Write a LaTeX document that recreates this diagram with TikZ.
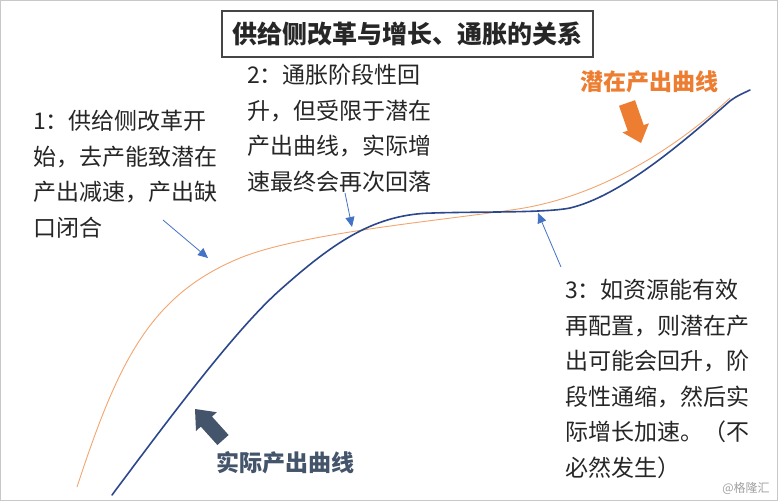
\documentclass[tikz,border=0pt]{standalone}
\usepackage{fontspec}
\setmainfont{Noto Sans CJK SC}
\usetikzlibrary{arrows.meta}
\definecolor{potline}{RGB}{243,165,110}
\definecolor{actline}{RGB}{44,72,140}
\definecolor{potlabel}{RGB}{237,125,49}
\definecolor{actlabel}{RGB}{68,84,106}
\definecolor{pointer}{RGB}{68,114,196}
\definecolor{txt}{RGB}{38,38,38}
\tikzset{
  note/.style={anchor=north west, inner sep=0pt, align=left, text=txt,
    font=\fontsize{23}{35.5}\selectfont},
  curvelabel/.style={inner sep=0pt, font=\fontsize{23}{28}\selectfont\bfseries},
  pointerline/.style={draw=pointer, line width=0.8pt, -{Triangle[length=10pt,width=9pt]}},
}
\begin{document}
\begin{tikzpicture}[x=1pt,y=-1pt]
\useasboundingbox (0,0) rectangle (778,501);
\fill[white] (0,0) rectangle (778,501);
\draw[draw={rgb,255:red,200;green,200;blue,200}, line width=1.2pt] (0.8,0.8) rectangle (777.2,500.2);

% title
\node[draw={rgb,255:red,70;green,70;blue,70}, line width=1.2pt, minimum width=371pt, minimum height=46pt,
  inner sep=0pt, font=\fontsize{25}{30}\selectfont\bfseries, text=txt] (title) at (407.5,34) {供给侧改革与增长、通胀的关系};

% potential output curve
\draw[potline, line width=0.9pt] (77,487)
  .. controls (118,362) and (150,295) .. (240,258)
  .. controls (300,233.3) and (440,220.6) .. (511,210)
  .. controls (610,197) and (690,135) .. (730,98);
% actual output curve
\draw[actline, line width=1.6pt, line cap=round] (112,495)
  .. controls (168,420) and (235,330) .. (280,290)
  .. controls (335,241) and (375,214) .. (433,213)
  .. controls (480,211.5) and (545,213) .. (570,208)
  .. controls (620,196) and (680,145) .. (730,101)
  .. controls (738,95) and (744,93) .. (750,90);

% notes
\node[note] (n1) at (33,110) {1：供给侧改革开\\始，去产能致潜在\\产出减速，产出缺\\口闭合};
\node[note] (n2) at (247,64) {2：通胀阶段性回\\升，但受限于潜在\\产出曲线，实际增\\速最终会再次回落};
\node[note] (n3) at (565,279) {3：如资源能有效\\再配置，则潜在产\\出可能会回升，阶\\段性通缩，然后实\\际增长加速。（不\\必然发生）};

% pointers
\coordinate (p1s) at (163,220); \coordinate (p1e) at (208,258);
\coordinate (p2s) at (345,193); \coordinate (p2e) at (352,227);
\coordinate (p3s) at (561,267); \coordinate (p3e) at (538,213);
\draw[pointerline] (p1s) -- (p1e);
\draw[pointerline] (p2s) -- (p2e);
\draw[pointerline] (p3s) -- (p3e);

% curve labels
\node[curvelabel, text=potlabel] (potl) at (649,82) {潜在产出曲线};
\node[curvelabel, text=actlabel] (actl) at (285,463) {实际产出曲线};

% block arrows
\fill[potlabel] (619.0,105.8) -- (627.7,130.7) -- (622.5,132.5) -- (641,143)
  -- (648.9,123.3) -- (643.7,125.1) -- (635.0,100.2) -- cycle;
\fill[actlabel] (228.6,435.0) -- (212.0,416.6) -- (216.8,412.2) -- (195,409)
  -- (196.0,431.0) -- (200.8,426.6) -- (217.4,445.0) -- cycle;

% watermark
\node[inner sep=0pt, text={rgb,255:red,160;green,160;blue,160}, font=\fontsize{12}{14}\selectfont] (wm) at (746,488) {@格隆汇};
\end{tikzpicture}
\end{document}
